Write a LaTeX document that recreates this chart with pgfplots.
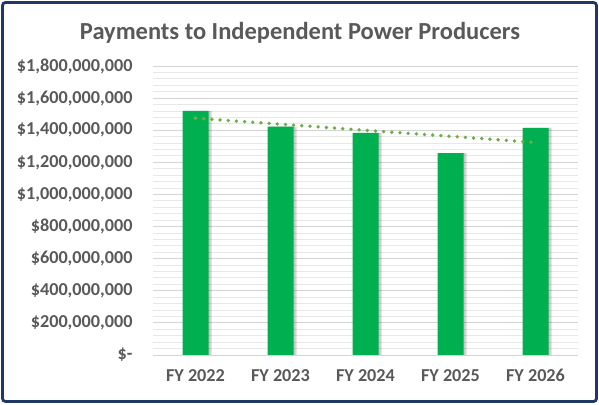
\documentclass[border=0pt]{standalone}
\usepackage{pgfplots}
\pgfplotsset{compat=1.18}
\usepackage{pgfplotstable}
\usepackage{fontspec}
\setmainfont{Carlito}
\definecolor{barg}{HTML}{00B050}
\definecolor{trend}{HTML}{70AD47}
\definecolor{txt}{HTML}{595959}
\definecolor{navy}{HTML}{1F3864}
\pgfplotstableread{
x y
0 1521000000
1 1422000000
2 1383000000
3 1258000000
4 1414000000
}\data
\begin{document}
\begin{tikzpicture}[x=1pt,y=1pt]
\useasboundingbox (0,0) rectangle (599,404);
\fill[white] (0,0) rectangle (599,404);
\begin{axis}[
  at={(153pt,49pt)}, anchor=south west,
  scale only axis, width=425pt, height=289pt,
  xmin=-0.5, xmax=4.5, ymin=0, ymax=1800000000,
  xtick={0,1,2,3,4},
  xticklabels={FY 2022,FY 2023,FY 2024,FY 2025,FY 2026},
  ytick={0,200000000,400000000,600000000,800000000,1000000000,1200000000,1400000000,1600000000,1800000000},
  yticklabels={{\$-},{\$200,000,000},{\$400,000,000},{\$600,000,000},{\$800,000,000},{\$1,000,000,000},{\$1,200,000,000},{\$1,400,000,000},{\$1,600,000,000},{\$1,800,000,000}},
  minor y tick num=4,
  ymajorgrids, yminorgrids,
  major grid style={draw=black!17, line width=0.9pt},
  minor grid style={draw=black!9, line width=0.9pt},
  axis line style={draw=none},
  major tick length=0pt, minor tick length=0pt,
  ticklabel style={font=\fontsize{18.2}{21}\selectfont\bfseries, text=txt},
  yticklabel style={xshift=-17pt},
  xticklabel style={yshift=-11pt},
  scaled y ticks=false,
  clip=false,
]
\addplot[ybar, bar width=26pt, bar shift=3.5pt, draw=none, fill=black, fill opacity=0.10] table[x=x,y=y] {\data};
\addplot[ybar, bar width=26pt, bar shift=2pt, draw=none, fill=black, fill opacity=0.12] table[x=x,y=y] {\data};
\addplot[ybar, bar width=26pt, bar shift=0pt, draw=none, fill=barg] table[x=x,y=y] {\data};
\addplot[sharp plot, no marks, trend, line width=3.8pt, line cap=round, dash pattern=on 0pt off 8.2pt] table[x=x, y={create col/linear regression={y=y}}] {\data};
\end{axis}
\node[font=\fontsize{24.5}{28}\selectfont\bfseries, text=txt] at (300,371) {Payments to Independent Power Producers};
\draw[navy, line width=2.8pt, rounded corners=3pt] (2.5,2.5) rectangle (596.5,401.5);
\end{tikzpicture}
\end{document}
